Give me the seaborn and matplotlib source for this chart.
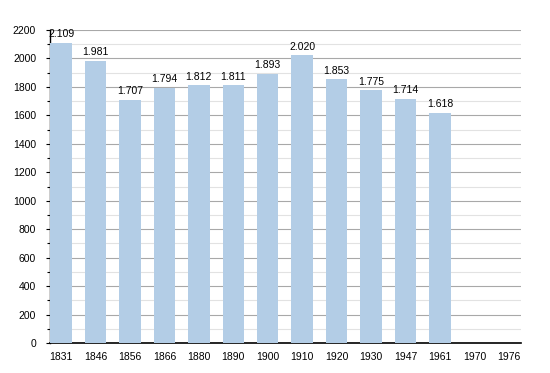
import pandas as pd
import seaborn as sns
import matplotlib.pyplot as plt
from matplotlib.ticker import MultipleLocator

years = ['1831', '1846', '1856', '1866', '1880', '1890', '1900',
         '1910', '1920', '1930', '1947', '1961', '1970', '1976']
population = [2109, 1981, 1707, 1794, 1812, 1811, 1893,
              2020, 1853, 1775, 1714, 1618, None, None]

df = pd.DataFrame({'year': years, 'pop': population})

sns.set_style('white')
plt.rcParams['font.family'] = ['Liberation Sans', 'DejaVu Sans']

fig = plt.figure(figsize=(5.5, 3.73), dpi=100)
ax = fig.add_axes([0.091, 0.080, 0.856, 0.840])

sns.barplot(data=df, x='year', y='pop', order=years, color='#b3cde6',
            saturation=1, width=0.62, linewidth=0, ax=ax, zorder=3)

ax.set_ylim(0, 2200)
ax.set_xlim(-0.32, len(years) - 0.65)
ax.yaxis.set_major_locator(MultipleLocator(200))
ax.yaxis.set_minor_locator(MultipleLocator(100))
ax.grid(axis='y', which='major', color='#a8a8a8', linewidth=0.8, zorder=0)
ax.grid(axis='y', which='minor', color='#e2e2e2', linewidth=0.8, zorder=0)
ax.set_axisbelow(True)

for side in ['top', 'right']:
    ax.spines[side].set_visible(False)
ax.spines['left'].set_color('black')
ax.spines['bottom'].set_color('black')
ax.spines['left'].set_linewidth(1)
ax.spines['bottom'].set_linewidth(1.2)

ax.tick_params(axis='y', which='major', left=True, length=3, width=0.8,
               labelsize=7.5, pad=7, colors='black')
ax.tick_params(axis='y', which='minor', left=True, length=2, width=0.8,
               colors='black')
ax.tick_params(axis='x', bottom=False, labelsize=7.5, pad=3,
               labelcolor='black')
ax.set_xlabel('')
ax.set_ylabel('')

for i, v in enumerate(population):
    if v is not None:
        ax.text(i, v + 25, f'{v:,}'.replace(',', '.'), ha='center',
                va='bottom', fontsize=7.5, color='black', zorder=4)

fig.savefig('out.png', dpi=100)
